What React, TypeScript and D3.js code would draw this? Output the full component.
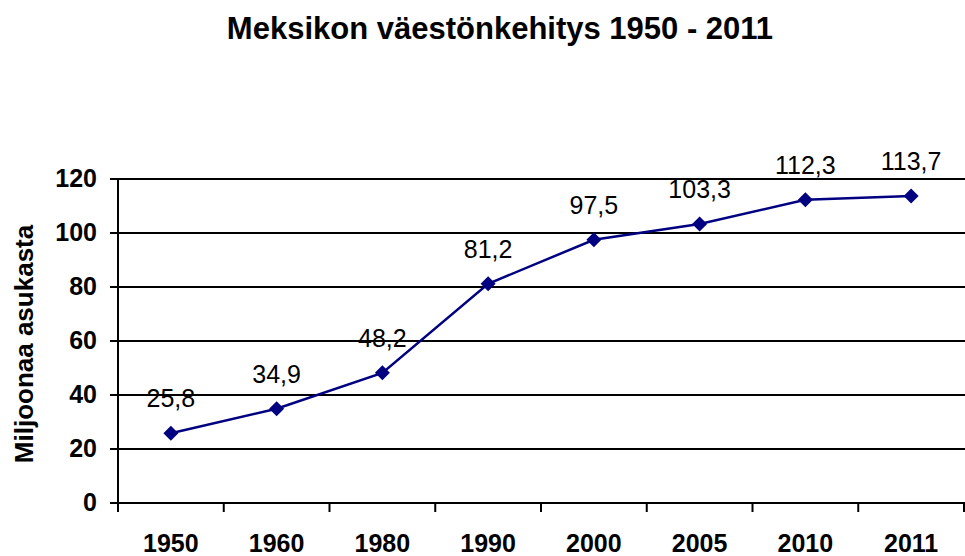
import React from "react";
import { scaleBand, scaleLinear, line } from "d3";

const years = ["1950", "1960", "1980", "1990", "2000", "2005", "2010", "2011"];
const population = [25.8, 34.9, 48.2, 81.2, 97.5, 103.3, 112.3, 113.7];
const yTicks = [0, 20, 40, 60, 80, 100, 120];

const W = 965;
const H = 556;
const left = 118;
const right = 964;
const top = 179;
const bottom = 503;
const font = "'Liberation Sans', Arial, sans-serif";
const navy = "#000080";

export default function App() {
  const x = scaleBand().domain(years).range([left, right]);
  const y = scaleLinear().domain([0, 120]).range([bottom, top]);
  const cx = (d: string) => (x(d) ?? 0) + x.bandwidth() / 2;

  const path = line<number>()
    .x((_, i) => cx(years[i]))
    .y(d => y(d))(population);

  const edges = years.map(d => x(d) ?? 0).concat([right]);

  return (
    <svg width={W} height={H} style={{ position: "absolute", left: 0, top: 0 }} fontFamily={font}>
      <rect width={W} height={H} fill="#fff" />
      <text x={500} y={39} textAnchor="middle" fontSize={31} fontWeight="bold">
        Meksikon väestönkehitys 1950 - 2011
      </text>
      {yTicks.map(t => (
        <g key={t}>
          <line x1={left - 8} x2={W} y1={y(t)} y2={y(t)} stroke="#000" strokeWidth={2} />
          <text x={97} y={y(t) + 8} textAnchor="end" fontSize={25} fontWeight="bold">
            {t}
          </text>
        </g>
      ))}
      <line x1={left} x2={left} y1={top} y2={bottom} stroke="#000" strokeWidth={2} />
      {edges.map((e, i) => (
        <line key={i} x1={e} x2={e} y1={bottom} y2={bottom + 9} stroke="#000" strokeWidth={2} />
      ))}
      {years.map(d => (
        <text key={d} x={cx(d)} y={552} textAnchor="middle" fontSize={25} fontWeight="bold">
          {d}
        </text>
      ))}
      <text
        transform={`translate(33,344) rotate(-90)`}
        textAnchor="middle"
        fontSize={26}
        fontWeight="bold"
      >
        Miljoonaa asukasta
      </text>
      <path d={path ?? ""} fill="none" stroke={navy} strokeWidth={2.5} />
      {population.map((v, i) => {
        const px = cx(years[i]);
        const py = y(v);
        return (
          <g key={i}>
            <path d={`M${px},${py - 7.5}L${px + 7.5},${py}L${px},${py + 7.5}L${px - 7.5},${py}Z`} fill={navy} />
            <text x={px} y={py - 26} textAnchor="middle" fontSize={25}>
              {String(v).replace(".", ",")}
            </text>
          </g>
        );
      })}
    </svg>
  );
}
